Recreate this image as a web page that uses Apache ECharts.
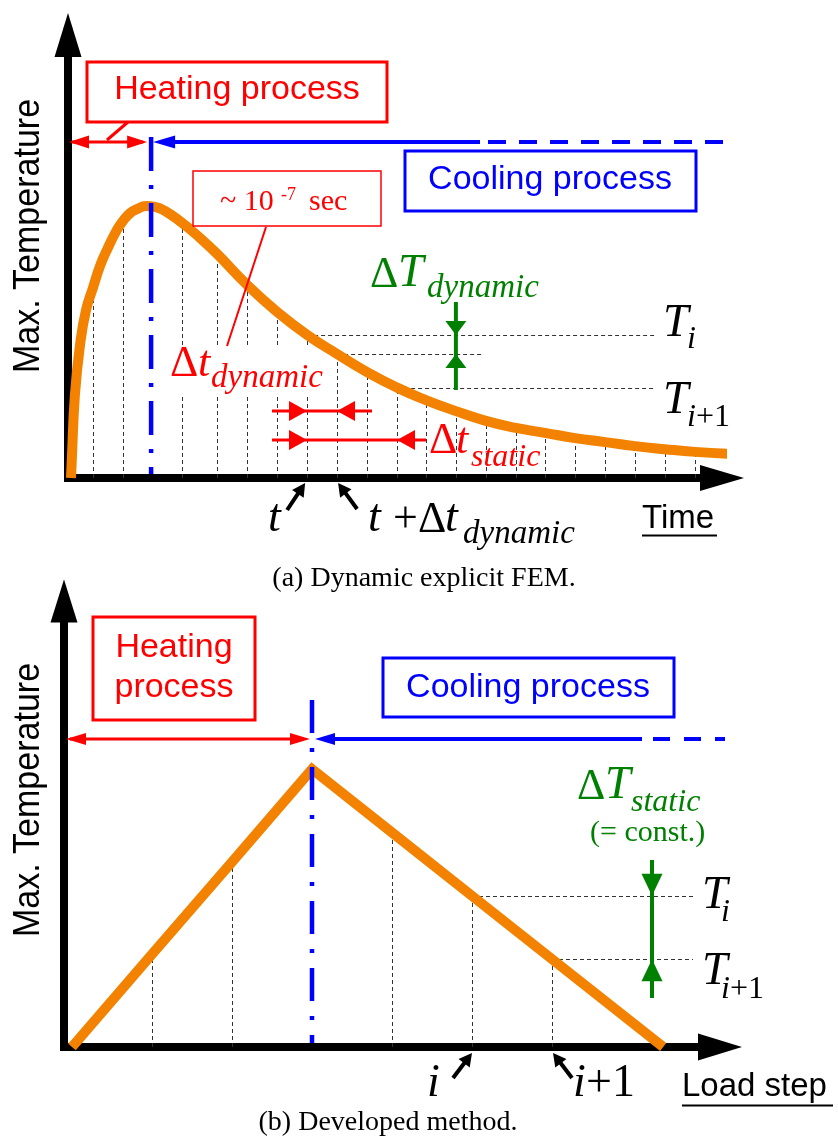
<!DOCTYPE html>
<html>
<head>
<meta charset="utf-8">
<script src="https://cdn.jsdelivr.net/npm/echarts@6/dist/echarts.min.js"></script>
<style>
  html, body { margin: 0; padding: 0; background: #fff; }
  #chart { width: 838px; height: 1138px; }
</style>
</head>
<body>
<div id="chart"></div>
<script>
// ---------- (a) Dynamic explicit FEM: max. temperature vs. time ----------
// time in dynamic time steps, temperature in % of the plotted range
const timeA = [0.10, 0.13, 0.23, 0.40, 0.60, 0.83, 1.07, 1.30, 1.63, 1.83,
               2.07, 2.30, 2.60, 2.90, 3.23, 3.80, 4.40, 4.97, 5.97, 6.97,
               7.97, 8.97, 9.97, 10.97, 11.93, 12.93, 13.93, 14.93, 15.90, 16.90,
               17.90, 18.90, 19.90, 20.90, 22.13];
const tempA = [0.0, 4.7, 18.7, 30.0, 37.9, 42.9, 47.9, 51.5, 56.0, 58.0,
               59.8, 60.7, 61.4, 61.2, 60.3, 57.6, 54.2, 50.6, 43.6, 37.5,
               32.3, 28.0, 23.9, 20.4, 17.6, 15.1, 12.9, 11.3, 10.2, 9.0,
               8.1, 7.2, 6.5, 5.9, 5.4];
// dynamic time steps marked with dashed lines
const stepTimeA = [0.83, 1.83, 3.80, 4.97, 5.97, 6.97, 7.97, 8.97, 9.97, 10.97,
                   11.93, 12.93, 13.93, 14.93, 15.90, 16.90, 17.90, 18.90, 19.90, 20.90];
const stepTempA = [42.9, 58.0, 57.6, 50.6, 43.6, 37.5, 32.3, 28.0, 23.9, 20.4,
                   17.6, 15.1, 12.9, 11.3, 10.2, 9.0, 8.1, 7.2, 6.5, 5.9];
const heatEndA = 2.77;      // end of heating
const stepT = 6;            // index of step t  (T_i)
const stepTdyn = 7;         // t + Δt_dynamic
const stepTstat = 9;        // t + Δt_static   (T_{i+1})
const deltaMarkStepA = 11;  // step where ΔT_dynamic is indicated

// ---------- (b) Developed method: max. temperature vs. load step ----------
const stepB = [0.1, 1.1, 2.1, 3.1, 4.1, 5.1, 6.1, 7.49];
const tempB = [0.0, 20.8, 41.5, 62.3, 48.1, 33.9, 19.7, 0.0];
const markedStepsB = [1, 2, 4, 5, 6];   // load steps with dashed lines
const peakB = 3;
const stepI = 5, stepI1 = 6;
const deltaMarkB = 7.35;

// ---------- text ----------
const yLabel = 'Max. Temperature';
const heatingText = 'Heating process';
const coolingText = 'Cooling process';
const captionA = '(a) Dynamic explicit FEM.';
const captionB = '(b) Developed method.';

const ORANGE = '#F28200', RED = '#FF0000', BLUE = '#0000FF', GREEN = '#008000', GUIDE = '#333';
const SANS = '"Liberation Sans", Arial, sans-serif';
const SERIF = '"Liberation Serif", "Times New Roman", serif';

const chart = echarts.init(document.getElementById('chart'));

function axisLine(size) {
  return { show: true, symbol: ['none', 'triangle'], symbolSize: size,
           lineStyle: { color: '#000', width: 8, cap: 'square' } };
}
function bareAxis(extra) {
  return Object.assign({ type: 'value', min: 0, axisTick: { show: false },
    axisLabel: { show: false }, splitLine: { show: false } }, extra);
}
function stepLines(params, api) {
  const top = api.coord([api.value(0), api.value(1)]);
  const bot = api.coord([api.value(0), 0]);
  const x = Math.round(top[0]) + 0.5;
  return { type: 'line', shape: { x1: x, y1: bot[1], x2: x, y2: top[1] },
           style: { stroke: GUIDE, lineWidth: 1, lineDash: [4, 3] } };
}

chart.setOption({
  animation: false,
  backgroundColor: '#fff',
  grid: [
    { left: 68, top: 35, width: 654, height: 443 },
    { left: 64, top: 601, width: 656, height: 446 }
  ],
  xAxis: [
    bareAxis({ gridIndex: 0, max: 21.8, axisLine: axisLine([26, 44]) }),
    bareAxis({ gridIndex: 1, max: 8.2, axisLine: axisLine([27, 44]) })
  ],
  yAxis: [
    bareAxis({ gridIndex: 0, max: 100, axisLine: axisLine([27, 44]) }),
    bareAxis({ gridIndex: 1, max: 100, axisLine: axisLine([27, 43]) })
  ],
  series: [
    { type: 'custom', xAxisIndex: 0, yAxisIndex: 0, z: 1, renderItem: stepLines,
      data: stepTimeA.map((t, i) => [t, stepTempA[i]]) },
    { type: 'line', xAxisIndex: 0, yAxisIndex: 0, z: 3, clip: false,
      smooth: 0.5, showSymbol: false,
      lineStyle: { color: ORANGE, width: 10 },
      data: timeA.map((t, i) => [t, tempA[i]]) },
    { type: 'custom', xAxisIndex: 1, yAxisIndex: 1, z: 1, renderItem: stepLines,
      data: markedStepsB.map(i => [stepB[i], tempB[i]]) },
    { type: 'line', xAxisIndex: 1, yAxisIndex: 1, z: 3, clip: false,
      showSymbol: false, lineStyle: { color: ORANGE, width: 10, join: 'miter' },
      data: stepB.map((s, i) => [s, tempB[i]]) }
  ]
});

// ---------- annotation helpers ----------
const pA = (x, y) => chart.convertToPixel({ gridIndex: 0 }, [x, y]);
const pB = (x, y) => chart.convertToPixel({ gridIndex: 1 }, [x, y]);
const Z = 20;

function seg(x1, y1, x2, y2, color, w, dash, z) {
  return { type: 'line', z: z == null ? Z : z, shape: { x1, y1, x2, y2 },
           style: { stroke: color, lineWidth: w, lineDash: dash || null } };
}
function head(tx, ty, ang, len, wid, color) {
  const bx = tx - len * Math.cos(ang), by = ty - len * Math.sin(ang);
  const nx = -Math.sin(ang) * wid / 2, ny = Math.cos(ang) * wid / 2;
  return { type: 'polygon', z: Z + 1,
           shape: { points: [[tx, ty], [bx + nx, by + ny], [bx - nx, by - ny]] },
           style: { fill: color } };
}
function pointer(fromX, fromY, toX, toY) {
  const ang = Math.atan2(toY - fromY, toX - fromX);
  const len = 13;
  return [seg(fromX, fromY, toX - (len - 2) * Math.cos(ang), toY - (len - 2) * Math.sin(ang), '#000', 4),
          head(toX, toY, ang, len, 14, '#000')];
}
function txt(str, x, base, size, color, o) {
  o = o || {};
  const serif = !o.sans;
  return { type: 'text', z: Z + 2, x: x, y: base - (serif ? 0.34 : 0.35) * size,
           style: { text: str, fontFamily: serif ? SERIF : SANS, fontSize: size,
                    fontStyle: o.italic ? 'italic' : 'normal', fill: color,
                    align: o.align || 'left', verticalAlign: 'middle' } };
}
function box(x, y, w, h, color, lw) {
  return { type: 'rect', z: Z, shape: { x, y, width: w, height: h },
           style: { fill: '#fff', stroke: color, lineWidth: lw } };
}
function vlabel(cx, cy) {
  return { type: 'text', z: Z, x: cx, y: cy, rotation: Math.PI / 2, scaleX: 0.945,
           style: { text: yLabel, fontFamily: SANS, fontSize: 36, fill: '#000',
                    align: 'center', verticalAlign: 'middle' } };
}

const g = [];

// ===== panel (a) =====
{
  const [x0, y0] = pA(0, 0);
  const xHeat = pA(heatEndA, 0)[0];
  const rowY = 142;
  // heating / cooling boundary
  g.push(seg(xHeat, 137, xHeat, y0 - 4, BLUE, 4.5, [34, 14, 4, 14], Z + 3));
  // heating span arrow
  g.push(seg(x0 + 4, rowY, xHeat - 8, rowY, RED, 3));
  g.push(head(x0 + 1, rowY, Math.PI, 20, 13, RED), head(xHeat - 4, rowY, 0, 20, 13, RED));
  // cooling span arrow
  g.push(seg(xHeat + 10, rowY, 480, rowY, BLUE, 4));
  g.push(seg(488, rowY, 723, rowY, BLUE, 4, [18, 13]));
  g.push(head(xHeat + 2, rowY, Math.PI, 22, 13, BLUE));
  // process boxes
  g.push(seg(107, 140, 128, 122, RED, 3));
  g.push(box(87, 62, 300, 60, RED, 3), txt(heatingText, 237, 102, 34, RED, { sans: true, align: 'center' }));
  g.push(box(405, 151, 291, 60, BLUE, 3), txt(coolingText, 550, 192, 34, BLUE, { sans: true, align: 'center' }));
  // ~10^-7 sec callout
  g.push(box(193, 171, 188, 55, RED, 1.5));
  g.push(txt('~ 10', 220, 212, 30, RED), txt('-7', 281, 201, 18, RED), txt('sec', 309, 212, 30, RED));
  g.push(seg(266, 227, 227, 346, RED, 2));
  // white backing behind the Δt_dynamic label (under the curve, over the step lines)
  g.push({ type: 'rect', z: 2, shape: { x: 167, y: 346, width: 160, height: 51 }, style: { fill: '#fff' } });
  g.push(txt('Δ', 170, 379, 44, RED), txt('t', 198, 379, 44, RED, { italic: true }),
         txt('dynamic', 211, 390, 33, RED, { italic: true }));

  // time steps t, t+Δt_dynamic, t+Δt_static
  const [xt, yTi] = pA(stepTimeA[stepT], stepTempA[stepT]);
  const [xtd, yTd] = pA(stepTimeA[stepTdyn], stepTempA[stepTdyn]);
  const [xts, yTs] = pA(stepTimeA[stepTstat], stepTempA[stepTstat]);
  const xr = (v) => Math.round(v);
  // Δt arrows
  g.push(seg(xr(xt) - 35, 411, xr(xtd) + 35, 411, RED, 3));
  g.push(head(xr(xt), 411, 0, 18, 20, RED), head(xr(xtd), 411, Math.PI, 18, 20, RED));
  g.push(seg(xr(xt) - 35, 440, xr(xts) + 29, 440, RED, 3));
  g.push(head(xr(xt), 440, 0, 18, 20, RED), head(xr(xts), 440, Math.PI, 18, 20, RED));
  g.push(txt('Δ', 429, 456, 44, RED), txt('t', 456, 456, 44, RED, { italic: true }),
         txt('static', 471, 468, 32, RED, { italic: true }));

  // temperature guides
  const hy = (v) => Math.round(v) + 0.5;
  g.push(seg(xt, hy(yTi), 655, hy(yTi), GUIDE, 1, [4, 3], 2));
  g.push(seg(xtd, hy(yTd), 483, hy(yTd), GUIDE, 1, [4, 3], 2));
  g.push(seg(xts, hy(yTs), 655, hy(yTs), GUIDE, 1, [4, 3], 2));
  // ΔT_dynamic
  const xg = pA(stepTimeA[deltaMarkStepA], 0)[0];
  g.push(seg(xg, 302, xg, 390, GREEN, 4));
  g.push(head(xg, yTi, Math.PI / 2, 14, 21, GREEN), head(xg, yTd, -Math.PI / 2, 14, 21, GREEN));
  g.push(txt('Δ', 370, 290, 44, GREEN), txt('T', 398, 290, 46, GREEN, { italic: true }),
         txt('dynamic', 427, 300, 33, GREEN, { italic: true }));
  g.push(txt('T', 663, 340, 46, '#000', { italic: true }), txt('i', 687, 350, 32, '#000', { italic: true }));
  g.push(txt('T', 663, 417, 46, '#000', { italic: true }), txt('i', 687, 428, 32, '#000', { italic: true }),
         txt('+1', 696, 428, 32, '#000'));

  // t and t + Δt_dynamic on the time axis
  g.push(...pointer(xt - 20, y0 + 32, xt - 2, y0 + 5));
  g.push(...pointer(xtd + 20, y0 + 31, xtd + 1, y0 + 5));
  g.push(txt('t', 268, 535, 46, '#000', { italic: true }));
  g.push(txt('t', 368, 535, 46, '#000', { italic: true }), txt('+', 393, 535, 44, '#000'),
         txt('Δ', 418, 535, 44, '#000'), txt('t', 445, 535, 46, '#000', { italic: true }),
         txt('dynamic', 463, 546, 33, '#000', { italic: true }));

  // axis names and caption
  g.push(txt('Time', 642, 530, 33, '#000', { sans: true }), seg(642, 535.5, 717, 535.5, '#000', 2));
  g.push(vlabel(29, 236));
  g.push(txt(captionA, 424, 588, 28, '#000', { align: 'center' }));
}

// ===== panel (b) =====
{
  const [x0, y0] = pB(0, 0);
  const [xPeak] = pB(stepB[peakB], 0);
  const rowY = 739;
  g.push(seg(xPeak, 700, xPeak, y0 - 4, BLUE, 4.5, [33, 15, 4, 15], Z + 3));
  g.push(seg(x0 + 6, rowY, xPeak - 8, rowY, RED, 3));
  g.push(head(x0 + 2, rowY, Math.PI, 20, 12, RED), head(xPeak - 2, rowY, 0, 20, 12, RED));
  g.push(seg(xPeak + 10, rowY, 642, rowY, BLUE, 4));
  g.push(seg(653, rowY, 725, rowY, BLUE, 4, [17, 14]));
  g.push(head(xPeak + 3, rowY, Math.PI, 20, 12, BLUE));

  g.push(box(93, 617, 162, 103, RED, 3));
  g.push(txt('Heating', 174, 660, 34, RED, { sans: true, align: 'center' }),
         txt('process', 174, 700, 34, RED, { sans: true, align: 'center' }));
  g.push(box(383, 658, 291, 59, BLUE, 3), txt(coolingText, 528, 700, 34, BLUE, { sans: true, align: 'center' }));

  const [xi, yTi] = pB(stepB[stepI], tempB[stepI]);
  const [xi1, yTi1] = pB(stepB[stepI1], tempB[stepI1]);
  const hy = (v) => Math.round(v) + 0.5;
  g.push(seg(xi, hy(yTi), 693, hy(yTi), GUIDE, 1, [4, 3], 2));
  g.push(seg(xi1, hy(yTi1), 693, hy(yTi1), GUIDE, 1, [4, 3], 2));

  const xg = pB(deltaMarkB, 0)[0];
  g.push(seg(xg, 860, xg, 998, GREEN, 4));
  g.push(head(xg, yTi, Math.PI / 2, 22, 21, GREEN), head(xg, yTi1, -Math.PI / 2, 22, 21, GREEN));
  g.push(txt('Δ', 577, 802, 44, GREEN), txt('T', 605, 802, 46, GREEN, { italic: true }),
         txt('static', 631, 813, 32, GREEN, { italic: true }),
         txt('(= const.)', 590, 843, 30, GREEN));
  g.push(txt('T', 702, 912, 46, '#000', { italic: true }), txt('i', 721, 923, 32, '#000', { italic: true }));
  g.push(txt('T', 702, 988, 46, '#000', { italic: true }), txt('i', 721, 1000, 32, '#000', { italic: true }),
         txt('+1', 730, 1000, 32, '#000'));

  g.push(...pointer(xi - 19, y0 + 31, xi, y0 + 6));
  g.push(...pointer(xi1 + 20, y0 + 31, xi1 + 1, y0 + 6));
  g.push(txt('i', 427, 1100, 46, '#000', { italic: true }));
  g.push(txt('i', 573, 1100, 46, '#000', { italic: true }), txt('+1', 586, 1100, 46, '#000'));

  g.push(txt('Load step', 682, 1098, 33, '#000', { sans: true }), seg(682, 1105.5, 833, 1105.5, '#000', 2));
  g.push(vlabel(29, 800));
  g.push(txt(captionB, 388, 1132, 28, '#000', { align: 'center' }));
}

chart.setOption({ graphic: { elements: g } });
</script>
</body>
</html>
